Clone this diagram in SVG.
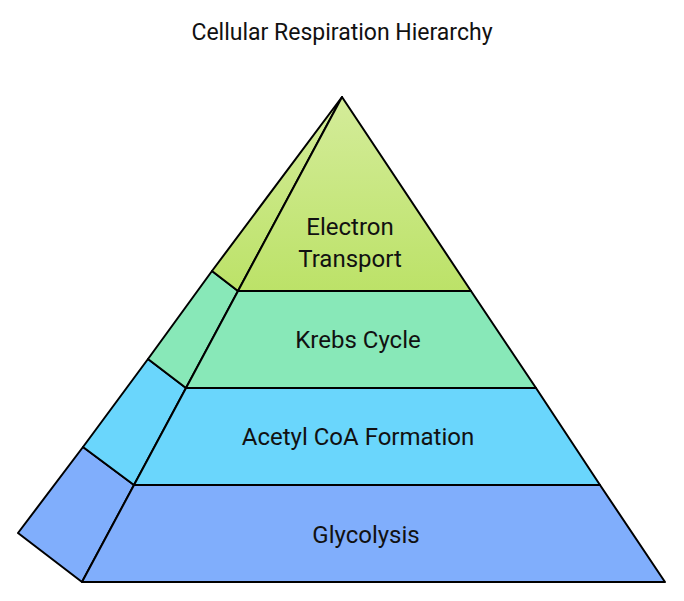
<svg xmlns="http://www.w3.org/2000/svg" width="684" height="601" viewBox="0 0 684 601">
<defs>
<linearGradient id="g1" x1="0" y1="0" x2="0" y2="1"><stop offset="0" stop-color="#d4ec9a"/><stop offset="1" stop-color="#bce268"/></linearGradient>
</defs>
<style>
.f{stroke:#000;stroke-width:2;stroke-linejoin:round}
text{font-family:Roboto,"Liberation Sans",sans-serif;font-size:24px;fill:#111;text-anchor:middle}
</style>
<rect width="684" height="601" fill="#fff"/>
<text x="342" y="40" style="font-size:23px">Cellular Respiration Hierarchy</text>
<g id="glycolysis">
<polygon class="f" fill="#80aefc" points="134,485 83,447 18,533 82,582"/>
<polygon class="f" fill="#80aefc" points="134,485 600,485 665,582 82,582"/>
<text x="366" y="543">Glycolysis</text>
</g>
<g id="acetyl">
<polygon class="f" fill="#6ad6fc" points="186,388 148,359 83,447 134,485"/>
<polygon class="f" fill="#6ad6fc" points="186,388 536,388 600,485 134,485"/>
<text x="358" y="445">Acetyl CoA Formation</text>
</g>
<g id="krebs">
<polygon class="f" fill="#88e8b8" points="238,291 212,271 148,359 186,388"/>
<polygon class="f" fill="#88e8b8" points="238,291 471,291 536,388 186,388"/>
<text x="358" y="348">Krebs Cycle</text>
</g>
<g id="electron">
<polygon class="f" fill="url(#g1)" points="342,97 212,271 238,291"/>
<polygon class="f" fill="url(#g1)" points="342,97 471,291 238,291"/>
<text x="350" y="235">Electron</text>
<text x="350" y="267">Transport</text>
</g>
</svg>
